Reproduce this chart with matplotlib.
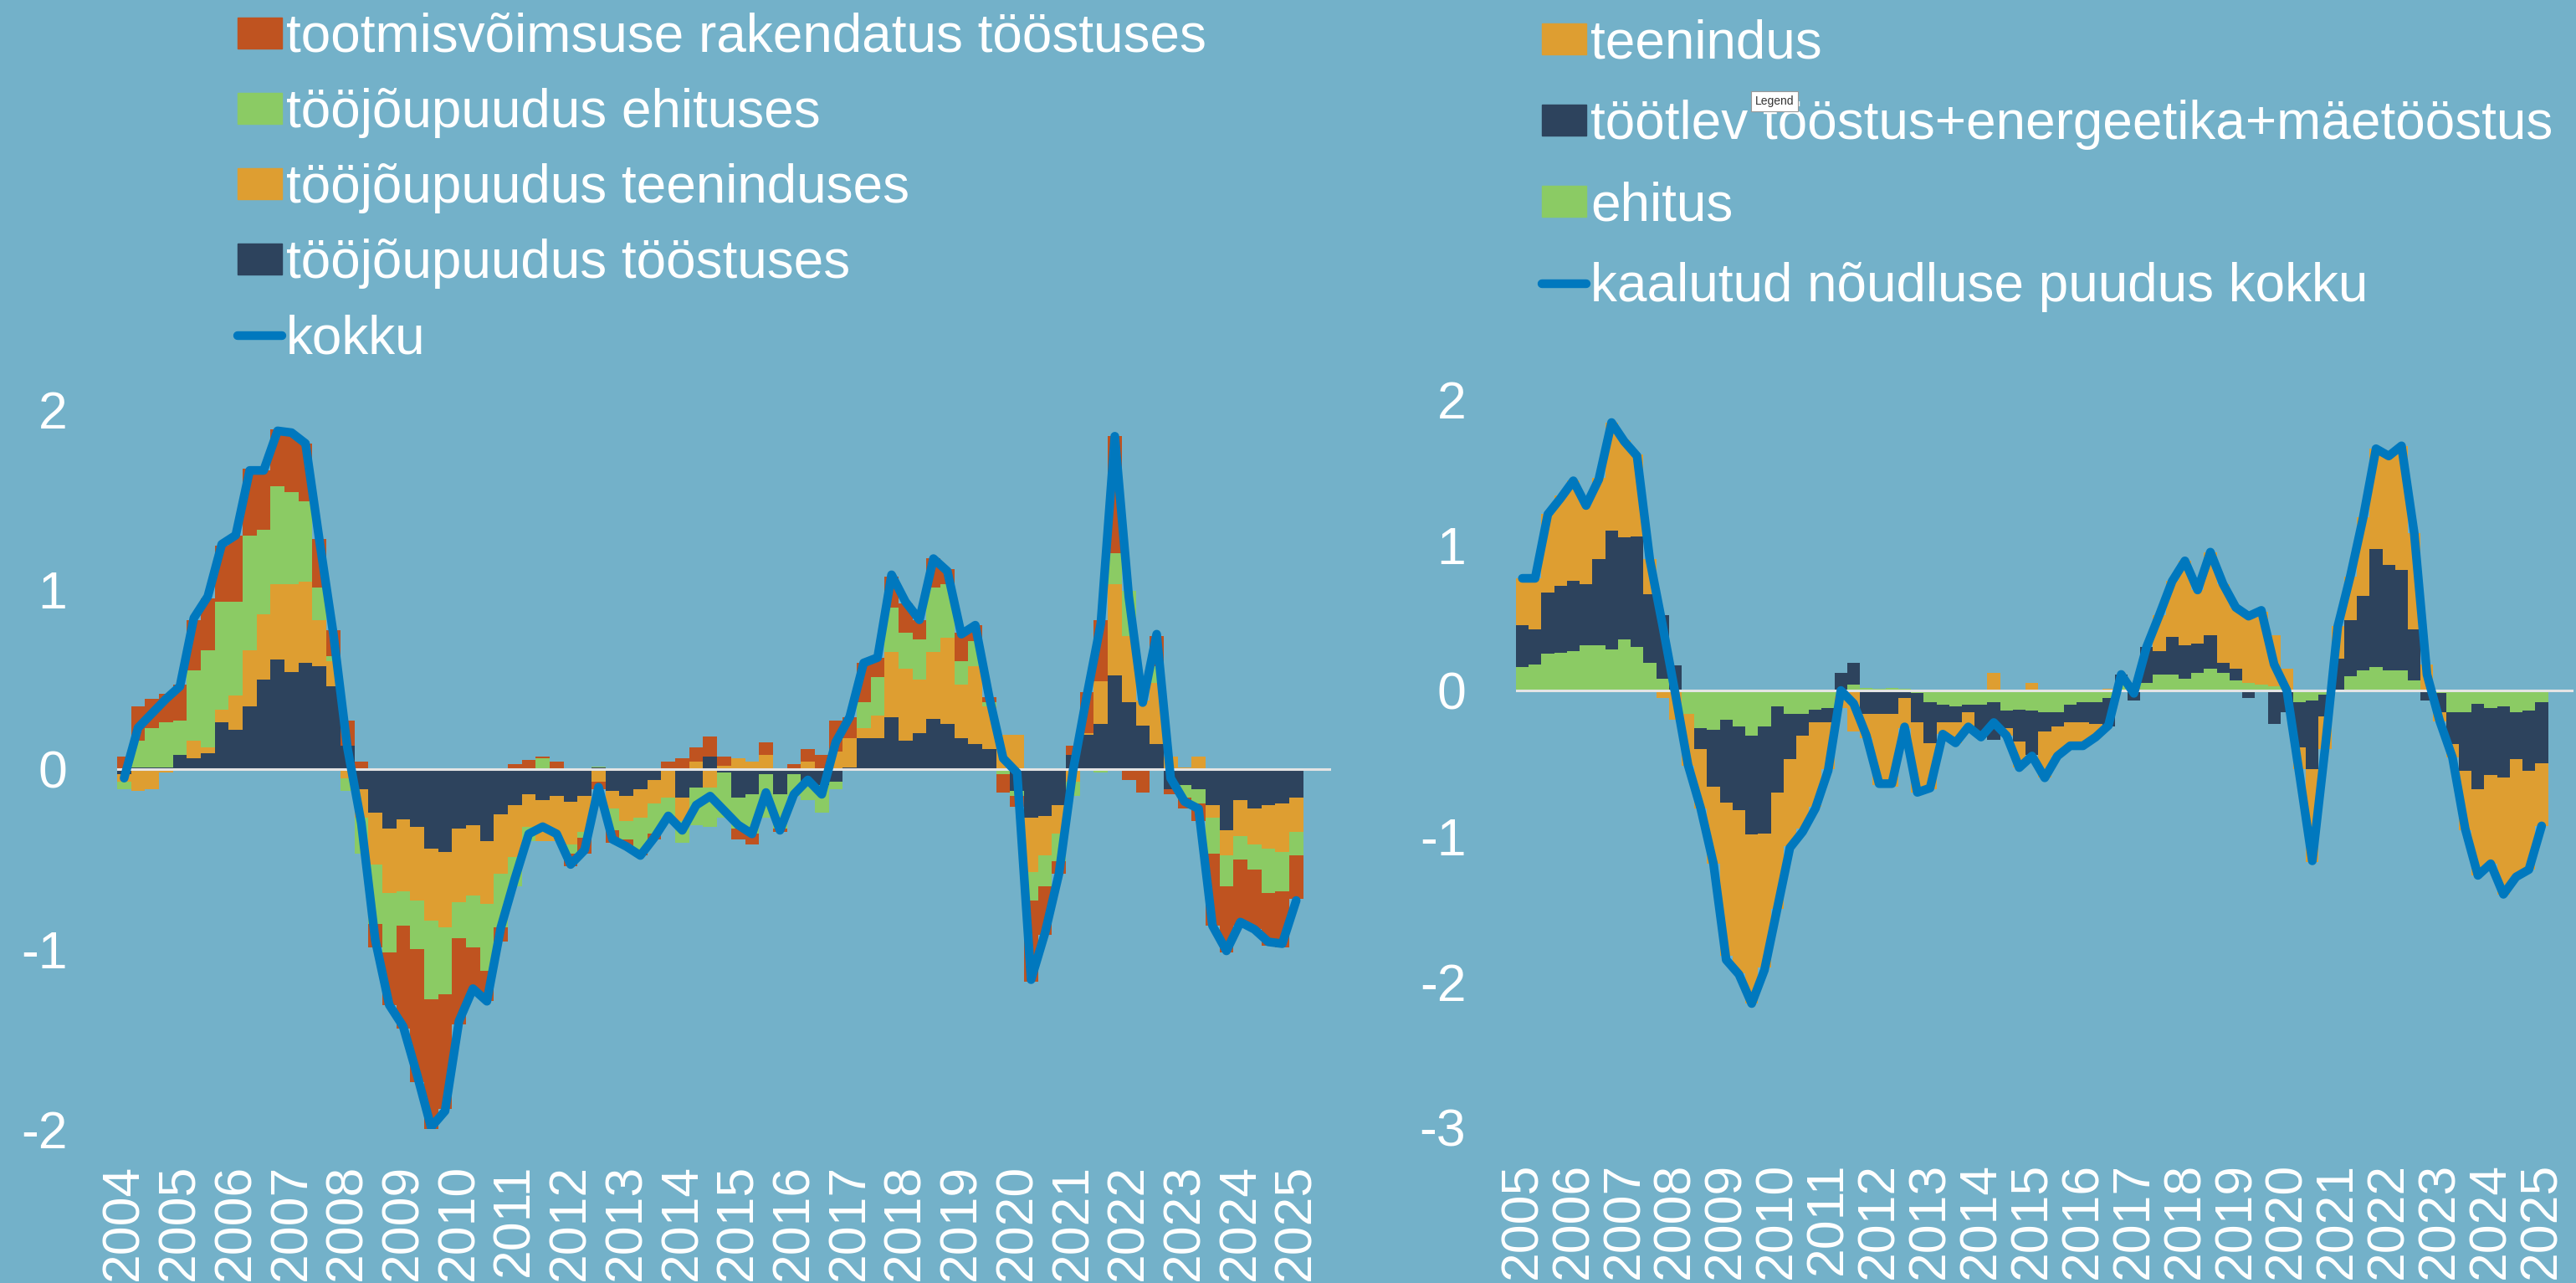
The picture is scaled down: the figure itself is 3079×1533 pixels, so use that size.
import numpy as np
import matplotlib
matplotlib.use("Agg")
import matplotlib.pyplot as plt
from matplotlib.patches import Patch
from matplotlib.lines import Line2D

plt.rcParams["font.family"] = ["Liberation Sans", "DejaVu Sans"]
plt.rcParams["axes.unicode_minus"] = False

BG = "#73B1C9"
RED = "#BF5320"
GREEN = "#8BCB64"
ORANGE = "#DE9E31"
NAVY = "#2D435D"
LINE = "#0078BE"

# ---- vasak paneel: kvartalid 2004Q1 .. 2025Q1 ----
vasak_aastad = list(range(2004, 2026))
toostus = [-0.03, 0.01, 0.01, 0.01, 0.08, 0.06, 0.09, 0.26, 0.22, 0.35, 0.50, 0.61, 0.54, 0.59, 0.57, 0.46,
           0.13, -0.11, -0.24, -0.33, -0.28, -0.32, -0.44, -0.46, -0.33, -0.31, -0.40, -0.25, -0.20, -0.14,
           -0.17, -0.15, -0.18, -0.15, 0.01, -0.12, -0.15, -0.11, -0.06, -0.01, -0.16, -0.10, 0.07, -0.02,
           -0.16, -0.14, -0.03, -0.14, -0.03, -0.09, -0.09, -0.07, 0.01, 0.17, 0.17, 0.29, 0.16, 0.20, 0.28,
           0.25, 0.17, 0.14, 0.11, 0.00, -0.12, -0.27, -0.26, -0.20, 0.08, 0.19, 0.25, 0.52, 0.37, 0.24,
           0.14, -0.11, -0.09, -0.11, -0.20, -0.34, -0.17, -0.22, -0.20, -0.19, -0.16]
teenindus = [-0.04, -0.12, -0.11, -0.02, 0.00, 0.10, 0.03, 0.07, 0.19, 0.31, 0.36, 0.42, 0.49, 0.45, 0.26, 0.14,
             -0.05, -0.16, -0.29, -0.36, -0.40, -0.41, -0.40, -0.42, -0.41, -0.39, -0.35, -0.33, -0.29, -0.18,
             -0.23, -0.25, -0.24, -0.20, -0.07, -0.10, -0.14, -0.16, -0.13, -0.15, -0.13, 0.04, -0.10, 0.02,
             0.06, 0.04, 0.08, 0.00, 0.00, 0.04, 0.00, 0.10, 0.16, 0.06, 0.13, 0.36, 0.40, 0.30, 0.37,
             0.48, 0.30, 0.43, 0.24, 0.19, 0.19, -0.30, -0.22, -0.16, -0.07, 0.01, 0.24, 0.51, 0.37, 0.14,
             0.34, 0.07, 0.01, 0.07, -0.07, -0.14, -0.20, -0.20, -0.24, -0.27, -0.19]
ehitus = [-0.04, 0.15, 0.22, 0.25, 0.19, 0.39, 0.54, 0.60, 0.52, 0.64, 0.47, 0.54, 0.51, 0.45, 0.18, 0.03,
          -0.07, -0.20, -0.33, -0.33, -0.19, -0.27, -0.44, -0.37, -0.20, -0.29, -0.37, -0.30, -0.16, -0.08,
          0.06, 0.00, -0.05, -0.03, 0.005, -0.12, -0.10, -0.18, -0.17, -0.12, -0.12, -0.21, -0.22, -0.25,
          -0.17, -0.22, -0.24, -0.19, -0.12, -0.08, -0.15, -0.04, 0.00, 0.14, 0.21, 0.25, 0.20, 0.22, 0.36,
          0.30, 0.13, 0.14, 0.02, -0.03, -0.03, -0.16, -0.17, -0.15, -0.08, 0.00, -0.02, 0.17, 0.25, 0.00,
          0.09, 0.00, -0.07, -0.08, -0.20, -0.17, -0.13, -0.14, -0.25, -0.22, -0.13]
vooimsus = [0.07, 0.19, 0.16, 0.16, 0.20, 0.28, 0.29, 0.31, 0.37, 0.37, 0.33, 0.32, 0.33, 0.32, 0.27, 0.14,
            0.14, 0.04, -0.13, -0.29, -0.57, -0.74, -0.72, -0.64, -0.48, -0.26, -0.17, -0.08, 0.03, 0.05,
            0.01, 0.04, -0.07, -0.09, -0.04, -0.07, -0.04, -0.03, -0.03, 0.04, 0.06, 0.08, 0.11, 0.05,
            -0.06, -0.06, 0.07, -0.02, 0.03, 0.07, 0.08, 0.17, 0.12, 0.22, 0.11, 0.17, 0.16, 0.11, 0.16,
            0.08, 0.16, 0.09, 0.03, -0.10, -0.06, -0.45, -0.27, -0.07, 0.05, 0.23, 0.34, 0.65, -0.06, -0.13,
            0.17, -0.03, -0.06, -0.10, -0.40, -0.37, -0.37, -0.33, -0.29, -0.31, -0.24]
kokku = [-0.05, 0.23, 0.31, 0.39, 0.46, 0.84, 0.96, 1.25, 1.30, 1.66, 1.66, 1.88, 1.87, 1.81, 1.27, 0.75,
         0.12, -0.30, -0.95, -1.31, -1.43, -1.70, -1.99, -1.90, -1.40, -1.22, -1.29, -0.88, -0.61, -0.36,
         -0.32, -0.36, -0.53, -0.45, -0.10, -0.39, -0.43, -0.48, -0.38, -0.26, -0.34, -0.20, -0.15, -0.23,
         -0.31, -0.36, -0.13, -0.34, -0.14, -0.06, -0.14, 0.15, 0.29, 0.59, 0.62, 1.08, 0.93, 0.83, 1.17,
         1.10, 0.75, 0.80, 0.40, 0.06, -0.02, -1.17, -0.91, -0.58, -0.01, 0.41, 0.81, 1.85, 0.96, 0.37,
         0.75, -0.05, -0.18, -0.22, -0.87, -1.01, -0.85, -0.89, -0.96, -0.97, -0.73]

# ---- parem paneel: kvartalid 2005Q1 .. 2025Q1 ----
parem_aastad = list(range(2005, 2026))
p_ehitus = [0.16, 0.18, 0.25, 0.26, 0.27, 0.31, 0.31, 0.28, 0.35, 0.30, 0.19, 0.08, 0.00, -0.16, -0.26, -0.27,
            -0.20, -0.25, -0.31, -0.25, -0.11, -0.16, -0.16, -0.13, -0.12, -0.04, 0.04, 0.02, 0.01, 0.02,
            0.01, -0.02, -0.08, -0.10, -0.11, -0.10, -0.10, -0.08, -0.14, -0.13, -0.14, -0.15, -0.15, -0.10,
            -0.08, -0.08, -0.05, 0.04, 0.00, 0.05, 0.11, 0.11, 0.08, 0.12, 0.15, 0.12, 0.07, 0.05, 0.04,
            0.03, 0.00, -0.08, -0.07, -0.03, 0.00, 0.10, 0.14, 0.16, 0.14, 0.14, 0.07, 0.00, -0.02, -0.15,
            -0.15, -0.09, -0.12, -0.11, -0.15, -0.14, -0.08]
p_toostus = [0.29, 0.24, 0.42, 0.46, 0.48, 0.42, 0.59, 0.82, 0.70, 0.76, 0.47, 0.44, 0.17, 0.005, -0.14, -0.39,
             -0.57, -0.57, -0.68, -0.73, -0.59, -0.31, -0.15, -0.09, -0.10, 0.12, 0.15, -0.16, -0.16, -0.16,
             -0.05, -0.20, -0.28, -0.12, -0.11, -0.05, -0.21, -0.26, -0.12, -0.22, -0.30, -0.13, -0.10, -0.12,
             -0.14, -0.15, -0.20, 0.07, -0.07, 0.25, 0.16, 0.26, 0.23, 0.20, 0.23, 0.07, 0.08, -0.05, 0.00,
             -0.23, -0.15, -0.31, -0.47, -0.15, 0.22, 0.38, 0.51, 0.81, 0.72, 0.69, 0.35, -0.07, -0.13, -0.22,
             -0.40, -0.59, -0.46, -0.49, -0.32, -0.41, -0.42]
p_teenindus = [0.32, 0.35, 0.54, 0.62, 0.69, 0.55, 0.56, 0.74, 0.67, 0.56, 0.24, -0.05, -0.20, -0.36, -0.41, -0.53,
               -1.05, -1.12, -1.16, -0.92, -0.80, -0.60, -0.64, -0.58, -0.32, -0.08, -0.28, -0.17, -0.49, -0.50,
               -0.21, -0.48, -0.32, -0.08, -0.14, -0.10, -0.01, 0.12, -0.05, -0.18, 0.05, -0.32, -0.20, -0.16,
               -0.16, -0.09, 0.01, 0.00, 0.05, 0.00, 0.25, 0.38, 0.58, 0.37, 0.57, 0.54, 0.42, 0.46, 0.50,
               0.35, 0.15, -0.15, -0.64, -0.22, 0.22, 0.30, 0.54, 0.69, 0.75, 0.85, 0.66, 0.18, -0.06, -0.09,
               -0.41, -0.59, -0.61, -0.80, -0.81, -0.68, -0.43]
p_kokku = [0.77, 0.77, 1.21, 1.32, 1.44, 1.27, 1.45, 1.84, 1.71, 1.61, 0.90, 0.45, -0.02, -0.51, -0.81, -1.19,
           -1.85, -1.95, -2.15, -1.92, -1.50, -1.08, -0.97, -0.81, -0.55, 0.00, -0.09, -0.31, -0.64, -0.64,
           -0.25, -0.70, -0.67, -0.30, -0.36, -0.25, -0.32, -0.22, -0.31, -0.53, -0.45, -0.60, -0.45, -0.38,
           -0.38, -0.32, -0.24, 0.11, -0.02, 0.30, 0.52, 0.75, 0.89, 0.69, 0.95, 0.73, 0.57, 0.51, 0.55,
           0.18, 0.00, -0.58, -1.17, -0.40, 0.44, 0.79, 1.19, 1.66, 1.61, 1.68, 1.08, 0.11, -0.21, -0.46,
           -0.95, -1.27, -1.19, -1.40, -1.28, -1.23, -0.93]


def virnad(ax, seeriad, varvid):
    n = len(seeriad[0])
    x = np.arange(n)
    pos = np.zeros(n)
    neg = np.zeros(n)
    for vals, c in zip(seeriad, varvid):
        v = np.array(vals, dtype=float)
        alus = np.where(v >= 0, pos, neg)
        ax.bar(x, v, bottom=alus, width=1.0, color=c, linewidth=0, zorder=2)
        pos += np.where(v > 0, v, 0)
        neg += np.where(v < 0, v, 0)


def telg(ax, aastad, n_kat, ymin, ymax):
    ax.set_facecolor(BG)
    for sp in ax.spines.values():
        sp.set_visible(False)
    ax.set_xlim(-0.5, n_kat - 0.5)
    ax.set_ylim(ymin, ymax)
    ax.set_yticks(range(ymin, ymax + 1))
    ax.set_xticks([4 * i for i in range(len(aastad))])
    ax.set_xticklabels([str(a) for a in aastad], rotation=90)
    ax.tick_params(axis="both", length=0, colors="white", labelsize=45)
    ax.tick_params(axis="y", pad=43)
    ax.tick_params(axis="x", pad=30)
    ax.axhline(0, color="#E4E4E4", lw=2.2, zorder=3)


W, H = 3079, 1533
fig = plt.figure(figsize=(W / 100, H / 100), dpi=100, facecolor=BG)

ax1 = fig.add_axes([140 / W, 1 - 1349 / H, (1591 - 140) / W, (1349 - 489) / H])
telg(ax1, vasak_aastad, 87, -2, 2)
virnad(ax1, [toostus, teenindus, ehitus, vooimsus], [NAVY, ORANGE, GREEN, RED])
ax1.plot(np.arange(len(kokku)), kokku, color=LINE, lw=7.5, zorder=4,
         solid_capstyle="round", solid_joinstyle="round")

ax2 = fig.add_axes([1812 / W, 1 - 1347 / H, (3076 - 1812) / W, (1347 - 477) / H])
telg(ax2, parem_aastad, 83, -3, 2)
virnad(ax2, [p_ehitus, p_toostus, p_teenindus], [GREEN, NAVY, ORANGE])
ax2.plot(np.arange(len(p_kokku)), p_kokku, color=LINE, lw=7.5, zorder=4,
         solid_capstyle="round", solid_joinstyle="round")

leg_kw = dict(frameon=False, fontsize=46, labelcolor="white", handlelength=0.83, handleheight=0.53,
              handletextpad=0.08, borderpad=0, borderaxespad=0, loc="upper left")

h1 = [Patch(color=RED), Patch(color=GREEN), Patch(color=ORANGE), Patch(color=NAVY),
      Line2D([], [], color=LINE, lw=7.5, solid_capstyle="round")]
l1 = ["tootmisvõimsuse rakendatus tööstuses", "tööjõupuudus ehituses", "tööjõupuudus teeninduses",
      "tööjõupuudus tööstuses", "kokku"]
fig.legend(h1, l1, bbox_to_anchor=(284 / W, 1 - 15 / H), labelspacing=0.47, **leg_kw)

h2 = [Patch(color=ORANGE), Patch(color=NAVY), Patch(color=GREEN),
      Line2D([], [], color=LINE, lw=7.5, solid_capstyle="round")]
l2 = ["teenindus", "töötlev tööstus+energeetika+mäetööstus", "ehitus", "kaalutud nõudluse puudus kokku"]
fig.legend(h2, l2, bbox_to_anchor=(1843 / W, 1 - 22 / H), labelspacing=0.58, **leg_kw)

# ekraanipildil olev väike "Legend" vihje
fig.text(2121 / W, 1 - 121 / H, "Legend", fontsize=10, color="#333333", ha="center", va="center", zorder=10,
         bbox=dict(boxstyle="square,pad=0.35", fc="white", ec="#999999", lw=0.8))

fig.savefig("out.png", dpi=100, facecolor=BG)
